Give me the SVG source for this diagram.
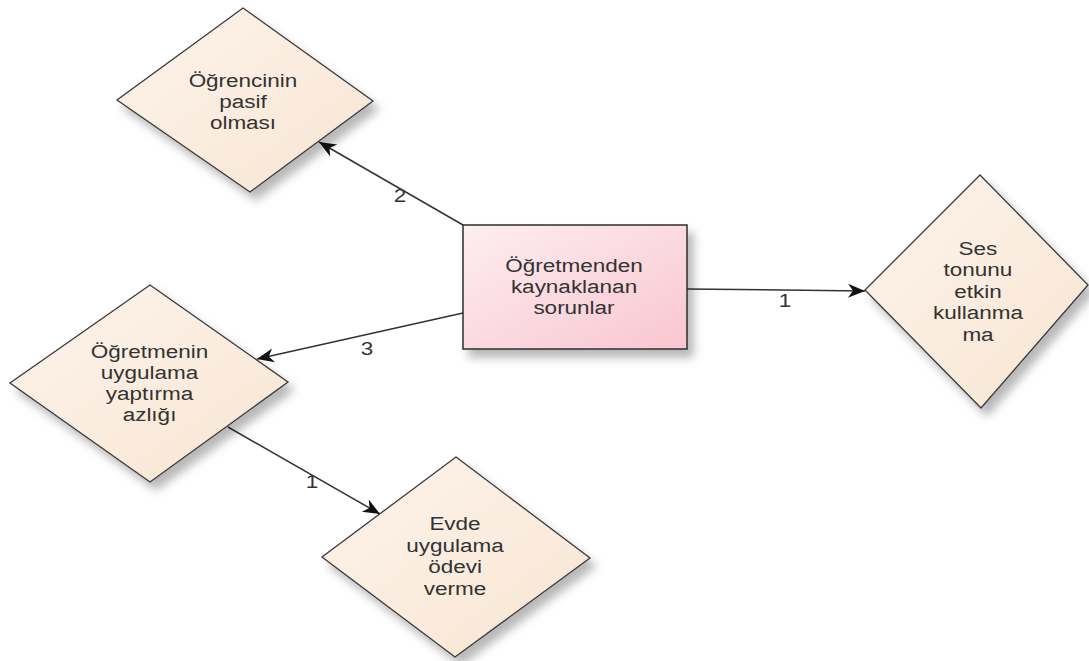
<svg xmlns="http://www.w3.org/2000/svg" width="1089" height="661" viewBox="0 0 1089 661">
  <style>
    .dia { fill: url(#peach); stroke: #3a3a3a; stroke-width: 1.3; filter: url(#shadow); }
    .box { fill: url(#pink); stroke: #2e2e2e; stroke-width: 1.5; filter: url(#shadow); }
    .t { font-family: "Liberation Sans", Arial, sans-serif; font-size: 18px; fill: #333; text-anchor: middle; }
    .edge { fill: none; stroke: #333; stroke-width: 1.5; marker-end: url(#arrow); }
  </style>
  <defs>
    <linearGradient id="peach" x1="0" y1="0" x2="1" y2="1">
      <stop offset="0" stop-color="#fdf4ec"/>
      <stop offset="1" stop-color="#f8e5d2"/>
    </linearGradient>
    <linearGradient id="pink" x1="0" y1="0" x2="1" y2="1">
      <stop offset="0" stop-color="#fdeef1"/>
      <stop offset="1" stop-color="#f9c6d0"/>
    </linearGradient>
    <filter id="shadow" x="-20%" y="-20%" width="150%" height="150%">
      <feDropShadow dx="6" dy="8" stdDeviation="5" flood-color="#000" flood-opacity="0.28"/>
    </filter>
    <marker id="arrow" markerUnits="userSpaceOnUse" markerWidth="20" markerHeight="16" viewBox="-18 -8 19 16" refX="0" refY="0" orient="auto">
      <path d="M0,0 L-17,-7 L-12,0 L-17,7 Z" fill="#111"/>
    </marker>
  </defs>

  <g id="connectors">
    <line class="edge" x1="463" y1="225" x2="319" y2="142"/>
    <line class="edge" x1="463" y1="313" x2="257" y2="359"/>
    <line class="edge" x1="687" y1="289" x2="865" y2="291"/>
    <line class="edge" x1="228" y1="427" x2="380" y2="514"/>
    <g transform="translate(400,0) scale(1.25,1)"><text class="t" x="0" y="202">2</text></g>
    <g transform="translate(367,0) scale(1.25,1)"><text class="t" x="0" y="355">3</text></g>
    <g transform="translate(785,0) scale(1.25,1)"><text class="t" x="0" y="307">1</text></g>
    <g transform="translate(312,0) scale(1.25,1)"><text class="t" x="0" y="488">1</text></g>
  </g>

  <g id="node-ogrencinin">
    <polygon class="dia" points="243,8 373,101 250,192 117,100"/>
    <g transform="translate(243,0) scale(1.25,1)">
      <text class="t" x="0" y="87">Öğrencinin</text>
      <text class="t" x="0" y="108">pasif</text>
      <text class="t" x="0" y="129">olması</text>
    </g>
  </g>

  <g id="node-ogretmenden">
    <rect class="box" x="463" y="225" width="224" height="124"/>
    <g transform="translate(574,0) scale(1.25,1)">
      <text class="t" x="0" y="272">Öğretmenden</text>
      <text class="t" x="0" y="293">kaynaklanan</text>
      <text class="t" x="0" y="314">sorunlar</text>
    </g>
  </g>

  <g id="node-ses">
    <polygon class="dia" points="980,175 1088,285 981,408 865,290"/>
    <g transform="translate(978,0) scale(1.25,1)">
      <text class="t" x="0" y="255">Ses</text>
      <text class="t" x="0" y="276.5">tonunu</text>
      <text class="t" x="0" y="298">etkin</text>
      <text class="t" x="0" y="319.5">kullanma</text>
      <text class="t" x="0" y="341">ma</text>
    </g>
  </g>

  <g id="node-uygulama">
    <polygon class="dia" points="150,285 288,382 150,482 10,383"/>
    <g transform="translate(149.5,0) scale(1.25,1)">
      <text class="t" x="0" y="358">Öğretmenin</text>
      <text class="t" x="0" y="379">uygulama</text>
      <text class="t" x="0" y="400">yaptırma</text>
      <text class="t" x="0" y="421">azlığı</text>
    </g>
  </g>

  <g id="node-evde">
    <polygon class="dia" points="456,457 590,558 455,657 322,557"/>
    <g transform="translate(455,0) scale(1.25,1)">
      <text class="t" x="0" y="530">Evde</text>
      <text class="t" x="0" y="552">uygulama</text>
      <text class="t" x="0" y="573">ödevi</text>
      <text class="t" x="0" y="595">verme</text>
    </g>
  </g>
</svg>
